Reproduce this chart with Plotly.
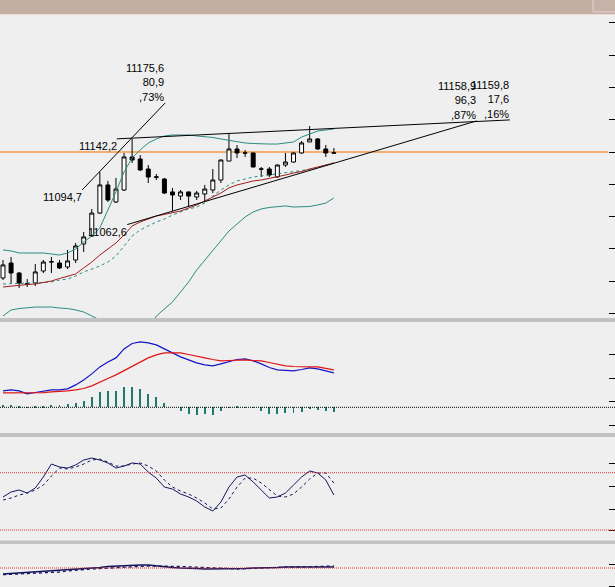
import plotly.graph_objects as go

# ---------------- data ----------------
opens  = [11013.0, 11026.9, 11017.6, 11007.2, 11008.3, 11019.5, 11027.8, 11026.9, 11023.2, 11029.7,
          11044.6, 11052.0, 11073.3, 11099.4, 11083.6, 11094.7, 11125.4, 11123.5, 11114.2, 11106.9,
          11104.9, 11092.9, 11089.1, 11092.9, 11088.2, 11091.0, 11094.7, 11104.0, 11121.6, 11132.8,
          11129.2, 11129.1, 11114.3, 11114.2, 11106.8, 11117.9, 11120.7, 11129.1, 11139.3, 11142.1,
          11132.8, 11129.2]
highs  = [11029.7, 11032.5, 11018.6, 11012.0, 11026.0, 11029.7, 11032.5, 11029.7, 11039.0, 11045.5,
          11055.7, 11077.1, 11111.4, 11103.1, 11105.9, 11129.1, 11142.2, 11127.2, 11117.9, 11109.6,
          11105.9, 11096.6, 11094.7, 11093.2, 11093.8, 11099.4, 11114.2, 11122.6, 11146.7, 11136.5,
          11131.9, 11129.5, 11116.1, 11116.1, 11118.5, 11129.1, 11129.5, 11140.2, 11154.1, 11143.0,
          11136.5, 11133.7]
lows   = [11011.1, 11008.3, 11003.7, 11004.6, 11005.5, 11017.6, 11017.6, 11021.3, 11021.3, 11026.9,
          11037.1, 11051.1, 11072.4, 11083.6, 11082.6, 11093.8, 11119.8, 11112.4, 11101.2, 11104.0,
          11091.0, 11075.2, 11085.4, 11078.9, 11085.4, 11083.6, 11091.9, 11101.2, 11121.6, 11124.4,
          11125.4, 11115.6, 11106.8, 11106.8, 11106.2, 11116.1, 11120.2, 11128.2, 11139.3, 11131.9,
          11125.4, 11128.9]
closes = [11025.1, 11017.6, 11008.3, 11007.6, 11018.6, 11027.8, 11028.1, 11022.3, 11028.8, 11042.7,
          11051.1, 11073.3, 11099.4, 11085.4, 11095.6, 11125.4, 11122.6, 11113.3, 11106.8, 11106.6,
          11091.9, 11090.1, 11092.9, 11089.1, 11091.9, 11095.6, 11104.0, 11122.6, 11132.8, 11129.1,
          11129.0, 11116.1, 11114.1, 11108.6, 11117.9, 11120.7, 11129.1, 11138.4, 11142.1, 11132.8,
          11129.1, 11129.0]

bb_upper = [11039.0, 11038.1, 11036.2, 11036.2, 11036.2, 11036.2, 11035.3, 11034.3, 11036.2, 11039.9,
            11046.4, 11052.0, 11059.4, 11076.1, 11092.9, 11111.4, 11124.4, 11131.9, 11138.4, 11142.1,
            11144.9, 11145.8, 11145.8, 11145.8, 11144.9, 11144.4, 11143.5, 11142.1, 11140.7, 11139.3,
            11138.4, 11137.9, 11137.4, 11137.4, 11137.4, 11138.4, 11139.3, 11143.9, 11146.7, 11149.5,
            11150.4, 11151.4]
bb_lower = [10977.7, 10983.3, 10984.6, 10985.6, 10986.0, 10986.0, 10986.0, 10985.1, 10984.6, 10983.3,
            10981.4, 10977.7, 10974.0, 10968.4, 10962.8, 10959.1, 10957.2, 10958.2, 10964.7, 10977.7,
            10984.2, 10990.7, 11000.0, 11009.3, 11020.4, 11029.7, 11039.0, 11048.3, 11056.6, 11063.1,
            11069.6, 11074.3, 11077.1, 11078.5, 11079.4, 11079.9, 11078.9, 11078.9, 11079.4, 11080.8,
            11082.6, 11087.3]
bb_middle = [11007.4, 11007.4, 11007.9, 11008.3, 11008.3, 11008.8, 11009.3, 11011.1, 11012.0, 11014.8,
             11018.6, 11021.3, 11024.1, 11027.8, 11033.4, 11042.7, 11052.0, 11057.6, 11061.3, 11065.0,
             11067.8, 11071.5, 11074.3, 11077.1, 11078.9, 11082.6, 11089.1, 11094.7, 11099.4, 11103.1,
             11104.9, 11106.8, 11107.7, 11108.6, 11109.6, 11110.5, 11111.4, 11112.4, 11113.8, 11115.6,
             11117.5, 11119.8]
ma_red = [11004.6, 11005.5, 11006.5, 11006.9, 11007.4, 11008.8, 11010.2, 11012.5, 11014.4, 11016.7,
          11022.3, 11027.8, 11034.3, 11039.9, 11045.5, 11052.9, 11061.3, 11065.0, 11067.8, 11070.6,
          11072.0, 11073.3, 11075.2, 11078.0, 11080.8, 11084.5, 11088.2, 11091.9, 11096.6, 11099.4,
          11101.2, 11103.1, 11104.0, 11105.4, 11106.8, 11108.6, 11110.5, 11111.9, 11114.2, 11116.1,
          11118.4, 11119.8]

level_line = 11130.0
main_ticks = [10980, 11010, 11040, 11070, 11100, 11130, 11160, 11190, 11220, 11250]

# trendlines: start/end index and price, with their labels
trend_x = [[9.8, 20.1], [14.1, 62.8], [15.4, 58.7]]
trend_y = [[11094.7, 11175.6], [11142.2, 11159.8], [11062.6, 11158.9]]
trend_start_labels = ["11094,7", "11142,2", "11062,6"]
trend_end_labels = ["11175,6<br>80,9<br>,73%", "11159,8<br>17,6<br>,16%", "11158,9<br>96,3<br>,87%"]

macd_line = [8.2, 8.7, 8.2, 6.7, 7.4, 7.9, 8.7, 8.7, 9.2, 11.2, 13.7, 16.7, 20.2, 22.7, 24.7, 29.2,
             31.9, 32.7, 32.2, 31.2, 29.2, 26.9, 25.2, 23.7, 22.2, 21.2, 20.7, 21.7, 22.9, 23.9, 24.2,
             23.2, 21.7, 19.9, 18.7, 18.4, 18.2, 18.9, 19.7, 19.2, 18.2, 17.2]
macd_signal = [7.2, 7.2, 7.2, 7.2, 7.2, 7.3, 7.7, 7.9, 8.2, 8.7, 9.4, 10.7, 12.7, 14.4, 16.2, 18.4,
               20.7, 22.7, 24.7, 26.2, 27.2, 27.2, 27.2, 26.4, 25.4, 24.7, 23.9, 23.2, 23.4, 23.7, 23.7,
               23.4, 23.2, 22.4, 21.4, 20.7, 20.4, 20.2, 20.2, 20.2, 19.4, 18.7]
macd_hist = [1.0, 1.0, 0.25, 0.15, 0.25, 0.25, 1.0, 1.0, 1.5, 2.35, 3.35, 5.35, 7.85, 8.35, 8.15, 10.35,
             10.35, 9.0, 6.65, 5.35, 2.35, 0.0, -1.65, -3.5, -3.85, -3.5, -3.85, -1.65, 0.15, 0.5, 0.15,
             -0.35, -1.65, -3.35, -3.35, -3.0, -2.65, -2.15, -0.65, -1.15, -1.65, -2.15]
macd_ticks = [26.2, 14.5, 2.8, -8.9]

stoch_k = [54.6, 59.8, 61.9, 58.7, 64.0, 75.5, 89.1, 86.0, 84.9, 88.1, 93.3, 95.4, 93.3, 90.2, 84.9,
           87.0, 90.2, 89.1, 80.7, 74.4, 65.0, 62.9, 57.7, 54.6, 50.4, 44.1, 39.9, 49.3, 65.0, 75.5,
           77.6, 70.3, 61.9, 53.5, 54.6, 58.7, 67.1, 75.5, 81.8, 79.7, 72.4, 56.6]
stoch_d = [51.4, 53.5, 56.6, 58.7, 61.9, 67.1, 76.5, 84.9, 83.9, 86.0, 89.1, 93.3, 94.3, 91.2, 87.0,
           87.0, 89.1, 90.2, 87.0, 81.8, 72.4, 65.0, 60.8, 57.7, 53.5, 48.3, 42.0, 43.0, 52.5, 65.0,
           74.4, 74.4, 69.2, 61.9, 55.6, 54.6, 57.7, 65.0, 73.4, 79.7, 79.7, 69.2]
stoch_levels = [80, 20]
stoch_ticks = [89.8, 65.3, 41.7, 19.3]

bottom_solid = [-6, -5.5, -5, -4.5, -4, -3.5, -3, -2, -1.5, -1, -0.5, 0, 0.5, 1.5, 2, 2.5, 3, 3, 3, 2,
                1, 0.5, 0, 0, -0.5, -1, -1, -1, -1, -1, -0.5, 0, 0, 0, 0.5, 1, 1, 1, 1, 1, 1, 1]
bottom_dash = [-6.7, -6.3, -6, -5.7, -5.3, -5, -4.5, -4, -3, -2, -1.5, -1, -0.5, 0, 0, 0.5, 1, 1.5, 2, 2,
               2, 1.8, 1.5, 1.2, 1, 0.8, 0.5, 0, -0.5, -1, -0.5, 0, 0, 0.3, 0.6, 1, 1, 1, 1.2, 1.5, 1.7, 2]
bottom_level = 0
bottom_ticks = [4, -18.5]

# ---------------- figure ----------------
W, H = 615, 587
R = 7
idx = list(range(len(opens)))
FONT = "Liberation Sans, Arial, sans-serif"
TEAL = "#2a8c80"
NAVY = "#14145e"

fig = go.Figure()

# Bollinger bands & moving averages
fig.add_trace(go.Scatter(x=idx, y=bb_upper, mode="lines", line=dict(color=TEAL, width=1)))
fig.add_trace(go.Scatter(x=idx, y=bb_lower, mode="lines", line=dict(color=TEAL, width=1)))
fig.add_trace(go.Scatter(x=idx, y=bb_middle, mode="lines", line=dict(color=TEAL, width=1, dash="3px,3px")))
fig.add_trace(go.Scatter(x=idx, y=ma_red, mode="lines", line=dict(color="#a01c1c", width=1)))

# candles
fig.add_trace(go.Candlestick(
    x=idx, open=opens, high=highs, low=lows, close=closes,
    increasing=dict(fillcolor="#ffffff", line=dict(color="#000000", width=1)),
    decreasing=dict(fillcolor="#000000", line=dict(color="#000000", width=1)),
    whiskerwidth=0))

# trendlines + labels
for tx, ty, sl, el in zip(trend_x, trend_y, trend_start_labels, trend_end_labels):
    fig.add_trace(go.Scatter(x=tx, y=ty, mode="lines", line=dict(color="#000000", width=1)))
    fig.add_annotation(x=tx[0], y=ty[0], text=sl, showarrow=False, xanchor="right", yanchor="top",
                       font=dict(family=FONT, size=11, color="#000000"), borderpad=0, xshift=1)
    fig.add_annotation(x=tx[1], y=ty[1], text=el, showarrow=False, xanchor="right", yanchor="bottom",
                       align="right", font=dict(family=FONT, size=11, color="#000000"),
                       borderpad=0, yshift=-1)

# MACD
fig.add_trace(go.Bar(x=idx, y=macd_hist, yaxis="y2", width=0.12, marker=dict(color="#1d7a6c", line=dict(width=0))))
fig.add_trace(go.Scatter(x=idx, y=macd_line, yaxis="y2", mode="lines", line=dict(color="#1414c8", width=1.2)))
fig.add_trace(go.Scatter(x=idx, y=macd_signal, yaxis="y2", mode="lines", line=dict(color="#e01414", width=1.2)))

# Stochastic
fig.add_trace(go.Scatter(x=idx, y=stoch_k, yaxis="y3", mode="lines", line=dict(color=NAVY, width=1)))
fig.add_trace(go.Scatter(x=idx, y=stoch_d, yaxis="y3", mode="lines", line=dict(color=NAVY, width=1, dash="3px,3px")))

# bottom panel
fig.add_trace(go.Scatter(x=idx, y=bottom_solid, yaxis="y4", mode="lines", line=dict(color=NAVY, width=1.3)))
fig.add_trace(go.Scatter(x=idx, y=bottom_dash, yaxis="y4", mode="lines", line=dict(color=NAVY, width=1.3, dash="3px,3px")))

def px2paper(p):
    return 1 - p / H

xr = 1 + R / (W - R)
shapes = []
# horizontal level line (orange)
shapes.append(dict(type="line", xref="paper", yref="y", x0=0, x1=1, y0=level_line, y1=level_line,
                   line=dict(color="#f39a44", width=1.6), layer="below"))
# MACD zero line
shapes.append(dict(type="line", xref="paper", yref="y2", x0=0, x1=xr, y0=0, y1=0,
                   line=dict(color="#000000", width=1, dash="1px,1px")))
# stochastic levels
for lv in stoch_levels:
    shapes.append(dict(type="line", xref="paper", yref="y3", x0=0, x1=xr, y0=lv, y1=lv,
                       line=dict(color="#e03030", width=1, dash="1px,1px")))
shapes.append(dict(type="line", xref="paper", yref="y4", x0=0, x1=xr, y0=bottom_level, y1=bottom_level,
                   line=dict(color="#e03030", width=1, dash="1px,1px")))
# separators
for a, b in [(318, 322), (433, 437), (540.5, 544)]:
    shapes.append(dict(type="rect", xref="paper", yref="paper", x0=0, x1=xr, y0=px2paper(b), y1=px2paper(a),
                       fillcolor="#c2c2c2", line=dict(width=0), layer="above"))
# title strip
shapes.append(dict(type="rect", xref="paper", yref="paper", x0=0, x1=xr, y0=px2paper(14), y1=1.002,
                   fillcolor="#c4ada3", line=dict(width=0), layer="above"))
shapes.append(dict(type="line", xref="paper", yref="paper", x0=0, x1=xr, y0=px2paper(14.5), y1=px2paper(14.5),
                   line=dict(color="#f2dcd6", width=1), layer="above"))
shapes.append(dict(type="rect", xref="paper", yref="paper", x0=593 / (W - R), x1=xr + 0.01,
                   y0=px2paper(12), y1=1.01, fillcolor="#c7b2a8", line=dict(color="#e4d6cf", width=1),
                   layer="above"))

axis_common = dict(side="right", ticks="outside", ticklen=7, tickwidth=1, tickcolor="#000000",
                   showticklabels=False, showgrid=False, zeroline=False, showline=False, anchor="x",
                   fixedrange=True)

fig.update_layout(
    width=W, height=H,
    margin=dict(l=0, r=R, t=0, b=0),
    paper_bgcolor="#efefef", plot_bgcolor="#efefef",
    showlegend=False, hovermode=False, bargap=0,
    shapes=shapes,
    xaxis=dict(range=[-0.372, 74.97], visible=False, rangeslider=dict(visible=False), fixedrange=True),
    yaxis=dict(domain=[px2paper(318), px2paper(15)], range=[10975.82, 11257.25], tickvals=main_ticks, **axis_common),
    yaxis2=dict(domain=[px2paper(433), px2paper(322)], range=[-12.85, 42.65], tickvals=macd_ticks, **axis_common),
    yaxis3=dict(domain=[px2paper(541), px2paper(437)], range=[8.5, 117.4], tickvals=stoch_ticks, **axis_common),
    yaxis4=dict(domain=[0, px2paper(544)], range=[-19, 24], tickvals=bottom_ticks, **axis_common),
)

fig.write_html("out.html", config=dict(displayModeBar=False))
